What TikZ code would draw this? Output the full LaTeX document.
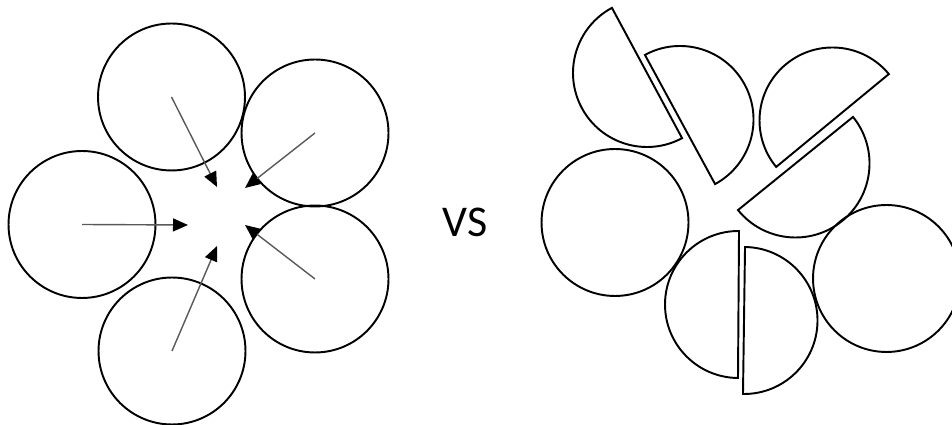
\documentclass[tikz,border=0pt]{standalone}
\usepackage{fontspec}
\setsansfont{Carlito}
\usepackage{tikz}
\usetikzlibrary{arrows.meta,positioning,calc}

\begin{document}
\begin{tikzpicture}[x=0.02cm,y=0.02cm,
    ball/.style={circle,draw,line width=1.1pt,minimum size=2.94cm,inner sep=0pt,outer sep=0pt},
    push/.style={-{Triangle[length=0.3cm,width=0.26cm,color=black]},line width=0.8pt,gray!70!black},
    half/.style={draw,line width=1.1pt}]
  \useasboundingbox (0,0) rectangle (952,425);
  % five whole circles pushed towards the middle
  \node[ball] (top) at (171.5,328) {};
  \node[ball] (upr) at (315,292) {};
  \node[ball] (lft) at (82,200.5) {};
  \node[ball] (bot) at (172,74) {};
  \node[ball] (lwr) at (315,146) {};
  \coordinate (ttop) at (217,238);
  \coordinate (tupr) at (245,237);
  \coordinate (tlft) at (188,200);
  \coordinate (tbot) at (217,179);
  \coordinate (tlwr) at (245,200);
  \draw[push] (top.center)--(ttop);
  \draw[push] (upr.center)--(tupr);
  \draw[push] (lft.center)--(tlft);
  \draw[push] (bot.center)--(tbot);
  \draw[push] (lwr.center)--(tlwr);
  \node[font=\sffamily\fontsize{25}{30}\selectfont] (vs) at (465,203) {VS};
  % split circles
  \node[ball] (wl) at (615,202.5) {};
  \node[ball] (wr) at (886.5,146.5) {};
  \coordinate (h1) at (647,352);
  \coordinate (h2) at (680,305.5);
  \coordinate (h3) at (832.5,304.5);
  \coordinate (h4) at (795.5,261.5);
  \coordinate (h5) at (738.5,120.5);
  \coordinate (h6) at (744,104.5);
  \draw[half] (h1) ++(118.3:74) arc[start angle=118.3,delta angle=180,radius=74] -- cycle;
  \draw[half] (h2) ++(-61.5:73.5) arc[start angle=-61.5,delta angle=180,radius=73.5] -- cycle;
  \draw[half] (h3) ++(39.5:73) arc[start angle=39.5,delta angle=180,radius=73] -- cycle;
  \draw[half] (h4) ++(219:74) arc[start angle=219,delta angle=180,radius=74] -- cycle;
  \draw[half] (h5) ++(89.6:73.5) arc[start angle=89.6,delta angle=180,radius=73.5] -- cycle;
  \draw[half] (h6) ++(-90.8:73.5) arc[start angle=-90.8,delta angle=180,radius=73.5] -- cycle;
\end{tikzpicture}
\end{document}
